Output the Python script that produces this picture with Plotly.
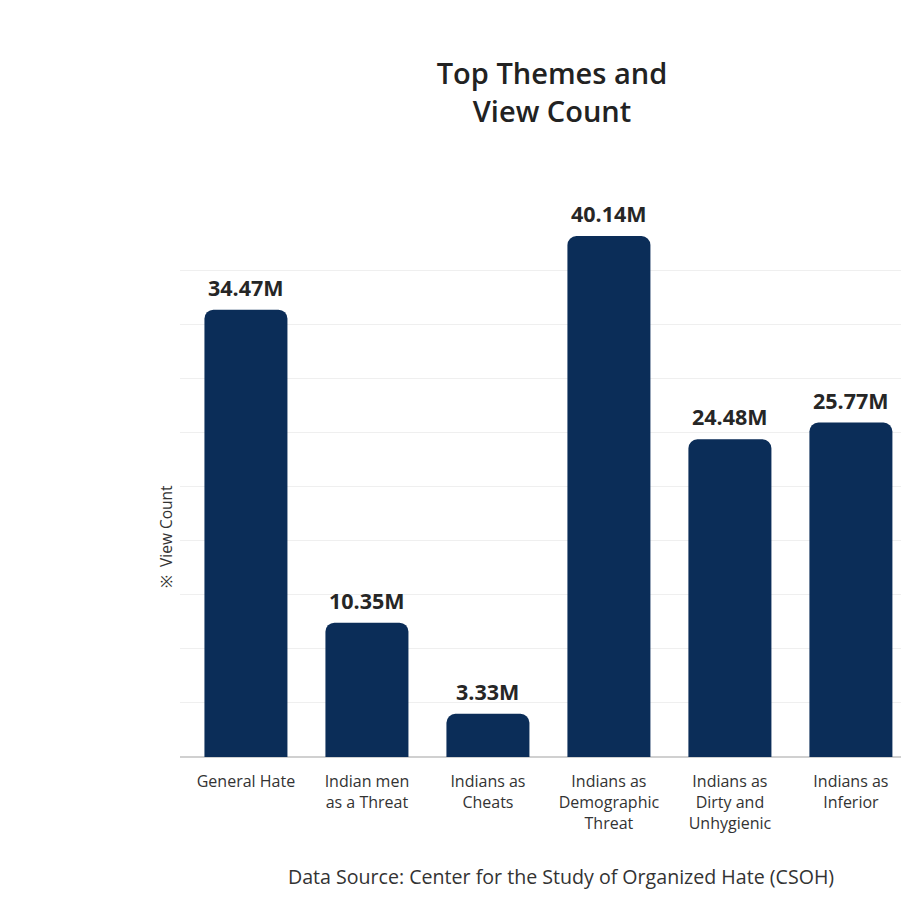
import plotly.graph_objects as go

categories = [
    "General Hate",
    "Indian men<br>as a Threat",
    "Indians as<br>Cheats",
    "Indians as<br>Demographic<br>Threat",
    "Indians as<br>Dirty and<br>Unhygienic",
    "Indians as<br>Inferior",
]
views_m = [34.47, 10.35, 3.33, 40.14, 24.48, 25.77]
value_labels = ["34.47M", "10.35M", "3.33M", "40.14M", "24.48M", "25.77M"]
grid_step = 37.5 / 9
grid_vals = [grid_step * k for k in range(0, 10)]

FONT = "Open Sans"

fig = go.Figure()
fig.add_trace(go.Bar(
    x=list(range(len(categories))),
    y=views_m,
    marker=dict(color="#0b2d58", cornerradius=9, line=dict(width=0)),
    hoverinfo="skip",
))

for i, (v, lab) in enumerate(zip(views_m, value_labels)):
    fig.add_annotation(
        x=i, y=v, text=lab, showarrow=False, yanchor="bottom", yshift=6,
        font=dict(family=FONT, size=21.5, color="#262626", weight=700),
    )

fig.add_annotation(
    xref="paper", yref="paper", x=(166 - 180) / 721, y=(757 - 537) / 557,
    xanchor="center", yanchor="middle",
    text="※  View Count", textangle=-90, showarrow=False,
    font=dict(family=FONT, size=15.5, color="#333333"),
)

fig.add_annotation(
    xref="paper", yref="paper", x=(561 - 180) / 721, y=-(876 - 757) / 557,
    xanchor="center", yanchor="middle",
    text="Data Source: Center for the Study of Organized Hate (CSOH)",
    showarrow=False,
    font=dict(family=FONT, size=19.6, color="#333333"),
)

fig.update_layout(
    width=901, height=906,
    margin=dict(l=180, r=0, t=200, b=149),
    paper_bgcolor="white", plot_bgcolor="white",
    showlegend=False,
    bargap=0.314,
    title=dict(
        text="Top Themes and<br>View Count",
        x=552 / 901, xanchor="center", xref="container",
        y=1 - 84 / 906, yanchor="middle", yref="container",
        font=dict(family=FONT, size=29, color="#222222", weight=600),
    ),
    xaxis=dict(
        range=[-0.545, 5.414],
        tickvals=list(range(len(categories))),
        ticktext=categories,
        tickfont=dict(family=FONT, size=16, color="#333333"),
        showgrid=False, zeroline=False, showline=False,
        ticks="", ticklabelstandoff=13,
    ),
    yaxis=dict(
        range=[0, 42.92],
        tickvals=grid_vals,
        showticklabels=False,
        showgrid=True, gridcolor="#efefef", gridwidth=1,
        zeroline=True, zerolinecolor="#d0d0d0", zerolinewidth=2,
        showline=False,
    ),
)

fig.write_html("out.html")
